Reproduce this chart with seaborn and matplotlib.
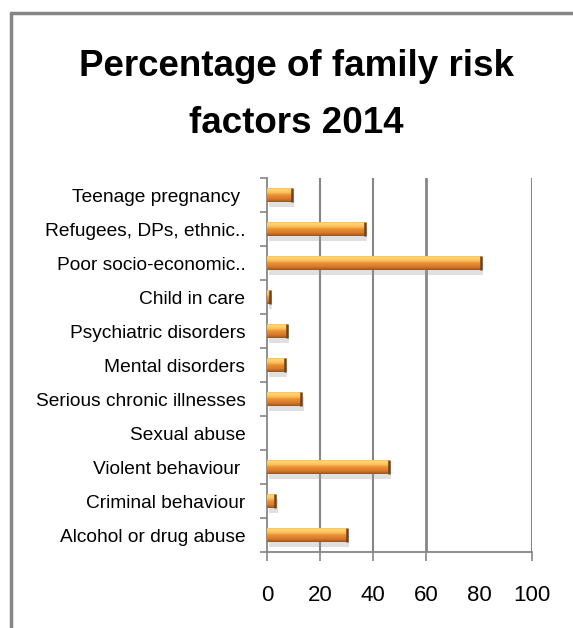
import numpy as np
import pandas as pd
import matplotlib
matplotlib.use("Agg")
import matplotlib.pyplot as plt
import matplotlib.patheffects as pe
from matplotlib.colors import LinearSegmentedColormap
from matplotlib import font_manager as fm
from matplotlib.lines import Line2D
import seaborn as sns

# ---- data ----
categories = [
    "Teenage pregnancy ",
    "Refugees, DPs, ethnic..",
    "Poor socio-economic..",
    "Child in care",
    "Psychiatric disorders",
    "Mental disorders",
    "Serious chronic illnesses",
    "Sexual abuse",
    "Violent behaviour ",
    "Criminal behaviour",
    "Alcohol or drug abuse",
]
values = [9.5, 36.8, 80.8, 1.0, 7.6, 6.8, 13.0, 0.0, 46.0, 3.2, 30.0]
x_ticks = [0, 20, 40, 60, 80, 100]
grid_values = [20, 40, 60, 100]
title_line1 = "Percentage of family risk"
title_line2 = "factors 2014"

df = pd.DataFrame({"factor": categories, "percent": values})


def pick(names):
    for n in names:
        try:
            fm.findfont(fm.FontProperties(family=n), fallback_to_default=False)
            return n
        except Exception:
            pass
    return "DejaVu Sans"


sns.set_style("white")
label_font = pick(["Liberation Sans", "Arial", "DejaVu Sans"])
plt.rcParams["font.family"] = [label_font, "DejaVu Sans"]
plt.rcParams["text.color"] = "black"
plt.rcParams["xtick.color"] = "black"
plt.rcParams["ytick.color"] = "black"

fig = plt.figure(figsize=(5.73, 6.28), dpi=100)
ax = fig.add_axes([267 / 573, 1 - 552 / 628, (532 - 267) / 573, (552 - 178) / 628])

sns.barplot(data=df, x="percent", y="factor", orient="h", width=0.42,
            color="#E8892B", edgecolor="none", linewidth=0, ax=ax, zorder=3)

# 3D-like gradient fill and soft shadow on each bar
cmap = LinearSegmentedColormap.from_list(
    "bar3d",
    [(0.0, "#F2A445"), (0.15, "#FFD877"), (0.35, "#FCC25E"),
     (0.55, "#E88F30"), (0.8, "#D7782A"), (1.0, "#9A5418")])
grad = np.linspace(0, 1, 64).reshape(-1, 1)
for p in ax.patches:
    w = p.get_width()
    if w <= 0:
        continue
    p.set_path_effects([pe.SimplePatchShadow(offset=(1.5, -3.5), shadow_rgbFace="#999999", alpha=0.3),
                        pe.Normal()])
    x0, y0 = p.get_x(), p.get_y()
    h = p.get_height()
    im = ax.imshow(grad, cmap=cmap, aspect="auto", extent=(x0, x0 + w, y0 + h, y0),
                   zorder=4, interpolation="bilinear")
    im.set_clip_path(p)
    ax.plot([x0 + w, x0 + w], [y0, y0 + h], color="#7A3F0E", lw=1.8, zorder=5,
            solid_capstyle="butt")

ax.set_xlim(0, 100)
ax.set_ylim(len(categories) - 0.5, -0.5)
ax.set_xlabel("")
ax.set_ylabel("")

for g in grid_values:
    ax.axvline(g, color="#868686", lw=1.5 if g != 60 else 2.0, zorder=1)

ax.set_xticks(x_ticks)
ax.set_xticklabels([str(t) for t in x_ticks])
ax.tick_params(axis="x", length=6.5, width=1.2, color="#868686", pad=17, labelsize=16,
               bottom=True, labelcolor="black")
for t, v in zip(ax.xaxis.get_major_ticks(), x_ticks):
    if v not in grid_values and v != 0:
        t.tick1line.set_visible(False)

ax.set_yticks(range(len(categories)))
ax.set_yticklabels(categories)
ax.set_yticks(np.arange(-0.5, len(categories), 1.0), minor=True)
ax.tick_params(axis="y", which="major", length=0, pad=15.5, labelsize=13.8, labelcolor="black")
ax.tick_params(axis="y", which="minor", length=5, width=1.2, color="#868686", left=True)

for side in ["top", "right"]:
    ax.spines[side].set_visible(False)
for side in ["left", "bottom"]:
    ax.spines[side].set_color("#868686")
    ax.spines[side].set_linewidth(1.3)

# titles
fig.text(296.5 / 573, 1 - 76 / 628, title_line1, ha="center", va="baseline",
         fontsize=26.5, fontweight="bold", color="black")
fig.text(296.5 / 573, 1 - 133 / 628, title_line2, ha="center", va="baseline",
         fontsize=26.5, fontweight="bold", color="black")

# chart frame (runs off the right and bottom edges)
fig.add_artist(Line2D([10.5 / 573, 10.5 / 573], [0, 1 - 13 / 628], transform=fig.transFigure,
                      color="#868686", lw=2.5))
fig.add_artist(Line2D([10.5 / 573, 1], [1 - 13 / 628, 1 - 13 / 628], transform=fig.transFigure,
                      color="#868686", lw=2.5))

fig.savefig("out.png", dpi=100, facecolor="white")
